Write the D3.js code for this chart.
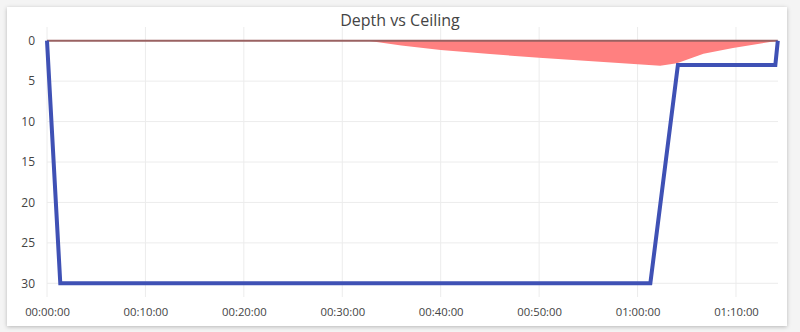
<!DOCTYPE html>
<html><head><meta charset="utf-8">
<script src="https://cdn.jsdelivr.net/npm/d3@7"></script>
<style>
html,body{margin:0;padding:0;background:#f4f4f4;}
body{width:800px;height:332px;overflow:hidden;font-family:"Open Sans",sans-serif;}
#card{position:absolute;left:7px;top:7px;width:780px;height:319px;background:#fff;box-shadow:0 1px 4px rgba(0,0,0,0.25);}
svg{position:absolute;left:0;top:0;}
</style></head><body>
<div id="card"></div>
<svg id="chart" width="800" height="332"></svg>
<script>
// time in minutes, depth in metres
const depthTime = [0, 1.35, 61.3, 64.1, 74.0, 74.25];
const depthVals = [0, 30, 30, 3, 3, 0];
const ceilTime = [0, 32.6, 36, 40, 45, 50, 55, 60, 62.3, 64, 66.7, 69.7, 74.25];
const ceilVals = [0, 0, 0.6, 1.15, 1.65, 2.1, 2.5, 2.9, 3.1, 2.8, 1.6, 0.9, 0];
const xTicks = [0, 10, 20, 30, 40, 50, 60, 70];
const yTicks = [0, 5, 10, 15, 20, 25, 30];
const title = "Depth vs Ceiling";

const svg = d3.select("#chart");
const x = d3.scaleLinear().domain([0, 74.27]).range([47, 778]);
const y = d3.scaleLinear().domain([0, 30]).range([40.7, 283.3]);

const fmt = m => {
  const s = Math.round(m * 60);
  const h = Math.floor(s / 3600), mm = Math.floor((s % 3600) / 60), ss = s % 60;
  return [h, mm, ss].map(v => String(v).padStart(2, "0")).join(":");
};

// grid
svg.append("g").selectAll("line").data(xTicks).join("line")
  .attr("x1", d => x(d)).attr("x2", d => x(d)).attr("y1", 27).attr("y2", 297)
  .attr("stroke", "#ececec").attr("stroke-width", 1);
svg.append("g").selectAll("line").data(yTicks).join("line")
  .attr("x1", 47).attr("x2", 778).attr("y1", d => y(d)).attr("y2", d => y(d))
  .attr("stroke", "#ececec").attr("stroke-width", 1);

// axes labels
const yAxis = d3.axisLeft(y).tickValues(yTicks).tickSize(0).tickPadding(0);
const gy = svg.append("g").attr("transform", "translate(35,0)").call(yAxis);
gy.select(".domain").remove();
gy.selectAll("text").attr("font-family", "Open Sans").attr("font-size", 12).attr("fill", "#444");

const xAxis = d3.axisBottom(x).tickValues(xTicks).tickFormat(fmt).tickSize(0).tickPadding(0);
const gx = svg.append("g").attr("transform", "translate(0,308)").call(xAxis);
gx.select(".domain").remove();
gx.selectAll("text").attr("font-family", "Open Sans").attr("font-size", 11.3).attr("fill", "#444");

// ceiling area
const ceil = ceilTime.map((t, i) => [t, ceilVals[i]]);
svg.append("path").datum(ceil)
  .attr("d", d3.area().x(d => x(d[0])).y0(y(0)).y1(d => y(d[1])))
  .attr("fill", "#ff8080");
svg.append("line").attr("x1", x(0)).attr("x2", x(74.25)).attr("y1", y(0)).attr("y2", y(0))
  .attr("stroke", "#9a6262").attr("stroke-width", 2);

// depth line
const depth = depthTime.map((t, i) => [t, depthVals[i]]);
svg.append("path").datum(depth)
  .attr("d", d3.line().x(d => x(d[0])).y(d => y(d[1])))
  .attr("fill", "none").attr("stroke", "#3f51b5").attr("stroke-width", 4)
  .attr("stroke-linejoin", "miter");

svg.append("text").attr("x", 400).attr("y", 26).attr("text-anchor", "middle")
  .attr("font-family", "Open Sans").attr("font-size", 16).attr("fill", "#444").text(title);
</script>
</body></html>
